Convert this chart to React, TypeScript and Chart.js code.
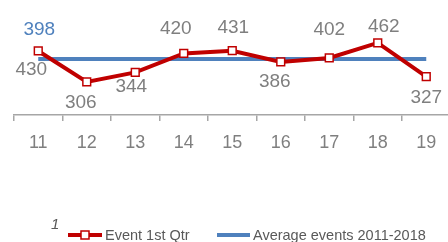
import React, { useEffect, useRef } from "react";
import { Chart, registerables } from "chart.js";

Chart.register(...registerables);

const categories = ["11", "12", "13", "14", "15", "16", "17", "18", "19"];
const eventValues = [430, 306, 344, 420, 431, 386, 402, 462, 327];
const averageValues = [398, 398, 398, 398, 398, 398, 398, 398, 398];
const seriesNames = ["Event 1st Qtr", "Average events 2011-2018"];
const strayLabel = "1";

// label placement (style only): offset of each data label from its point
const eventLabelOffsets = [
  [-7, 19], [-6, 21], [-4, 14], [-8, -25], [1, -23], [-6, 20], [0, -28], [6, -16], [0, 21],
];
const averageLabelOffset = [1, -29];

const RED = "#c00000";
const BLUE = "#4f81bd";
const GRAY = "#7f7f7f";
const LEGEND_GRAY = "#595959";
const FONT = "'Liberation Sans', Arial, sans-serif";

const labelsPlugin = {
  id: "valueLabels",
  afterDatasetsDraw(chart: any) {
    const ctx = chart.ctx;
    ctx.save();
    ctx.font = `19px ${FONT}`;
    ctx.textAlign = "center";
    ctx.textBaseline = "middle";
    const m0 = chart.getDatasetMeta(0);
    m0.data.forEach((pt: any, i: number) => {
      const [dx, dy] = eventLabelOffsets[i];
      ctx.fillStyle = GRAY;
      ctx.fillText(String(eventValues[i]), pt.x + dx, pt.y + dy);
    });
    const m1 = chart.getDatasetMeta(1);
    const p = m1.data[0];
    ctx.fillStyle = BLUE;
    ctx.fillText(String(averageValues[0]), p.x + averageLabelOffset[0], p.y + averageLabelOffset[1]);
    ctx.restore();
  },
};

const legendPlugin = {
  id: "customLegend",
  afterDraw(chart: any) {
    const ctx = chart.ctx;
    ctx.save();
    ctx.fillStyle = LEGEND_GRAY;
    ctx.font = `italic 15px ${FONT}`;
    ctx.textAlign = "left";
    ctx.textBaseline = "middle";
    ctx.fillText(strayLabel, 51, 225);

    const ly = 235;
    // red series
    ctx.strokeStyle = RED;
    ctx.lineWidth = 4;
    ctx.beginPath();
    ctx.moveTo(68, ly);
    ctx.lineTo(102, ly);
    ctx.stroke();
    ctx.fillStyle = "#ffffff";
    ctx.lineWidth = 1.5;
    ctx.fillRect(81, ly - 4, 8, 8);
    ctx.strokeRect(81, ly - 4, 8, 8);
    ctx.fillStyle = LEGEND_GRAY;
    ctx.font = `14.5px ${FONT}`;
    ctx.fillText(seriesNames[0], 105, ly + 1);

    // blue series
    ctx.strokeStyle = BLUE;
    ctx.lineWidth = 4;
    ctx.beginPath();
    ctx.moveTo(217, ly);
    ctx.lineTo(250, ly);
    ctx.stroke();
    ctx.fillStyle = LEGEND_GRAY;
    ctx.fillText(seriesNames[1], 253, ly + 1);
    ctx.restore();
  },
};

export default function App() {
  const ref = useRef<HTMLCanvasElement | null>(null);
  useEffect(() => {
    if (!ref.current) return;
    const chart = new Chart(ref.current, {
      type: "line",
      data: {
        labels: categories,
        datasets: [
          {
            label: seriesNames[0],
            data: eventValues,
            borderColor: RED,
            borderWidth: 4,
            backgroundColor: "#ffffff",
            pointStyle: "rect",
            pointRadius: 5.5,
            pointBorderWidth: 1.5,
            pointBorderColor: RED,
            pointBackgroundColor: "#ffffff",
            tension: 0,
            order: 0,
          },
          {
            label: seriesNames[1],
            data: averageValues,
            borderColor: BLUE,
            borderWidth: 4,
            pointRadius: 0,
            tension: 0,
            order: 1,
          },
        ],
      },
      options: {
        responsive: false,
        animation: false,
        devicePixelRatio: 1,
        layout: { autoPadding: false, padding: { left: 14, right: 9.5, top: 0, bottom: 77.5 } },
        plugins: { legend: { display: false }, tooltip: { enabled: false } },
        scales: {
          x: {
            type: "category",
            offset: true,
            border: { display: true, color: "#a6a6a6", width: 1.5 },
            grid: {
              offset: true,
              drawOnChartArea: false,
              drawTicks: true,
              tickLength: 6,
              color: "#a6a6a6",
              lineWidth: 1.5,
            },
            ticks: {
              color: GRAY,
              font: { family: FONT, size: 18 },
              padding: 11,
              maxRotation: 0,
              autoSkip: false,
            },
          },
          y: {
            display: false,
            min: 174,
            max: 634,
          },
        },
      },
      plugins: [labelsPlugin, legendPlugin],
    });
    return () => chart.destroy();
  }, []);
  return (
    <div
      style={{
        position: "fixed",
        left: 0,
        top: 0,
        width: 448,
        height: 242,
        overflow: "hidden",
        background: "#ffffff",
      }}
    >
      <canvas ref={ref} width={460} height={242} style={{ width: 460, height: 242, display: "block" }} />
    </div>
  );
}
